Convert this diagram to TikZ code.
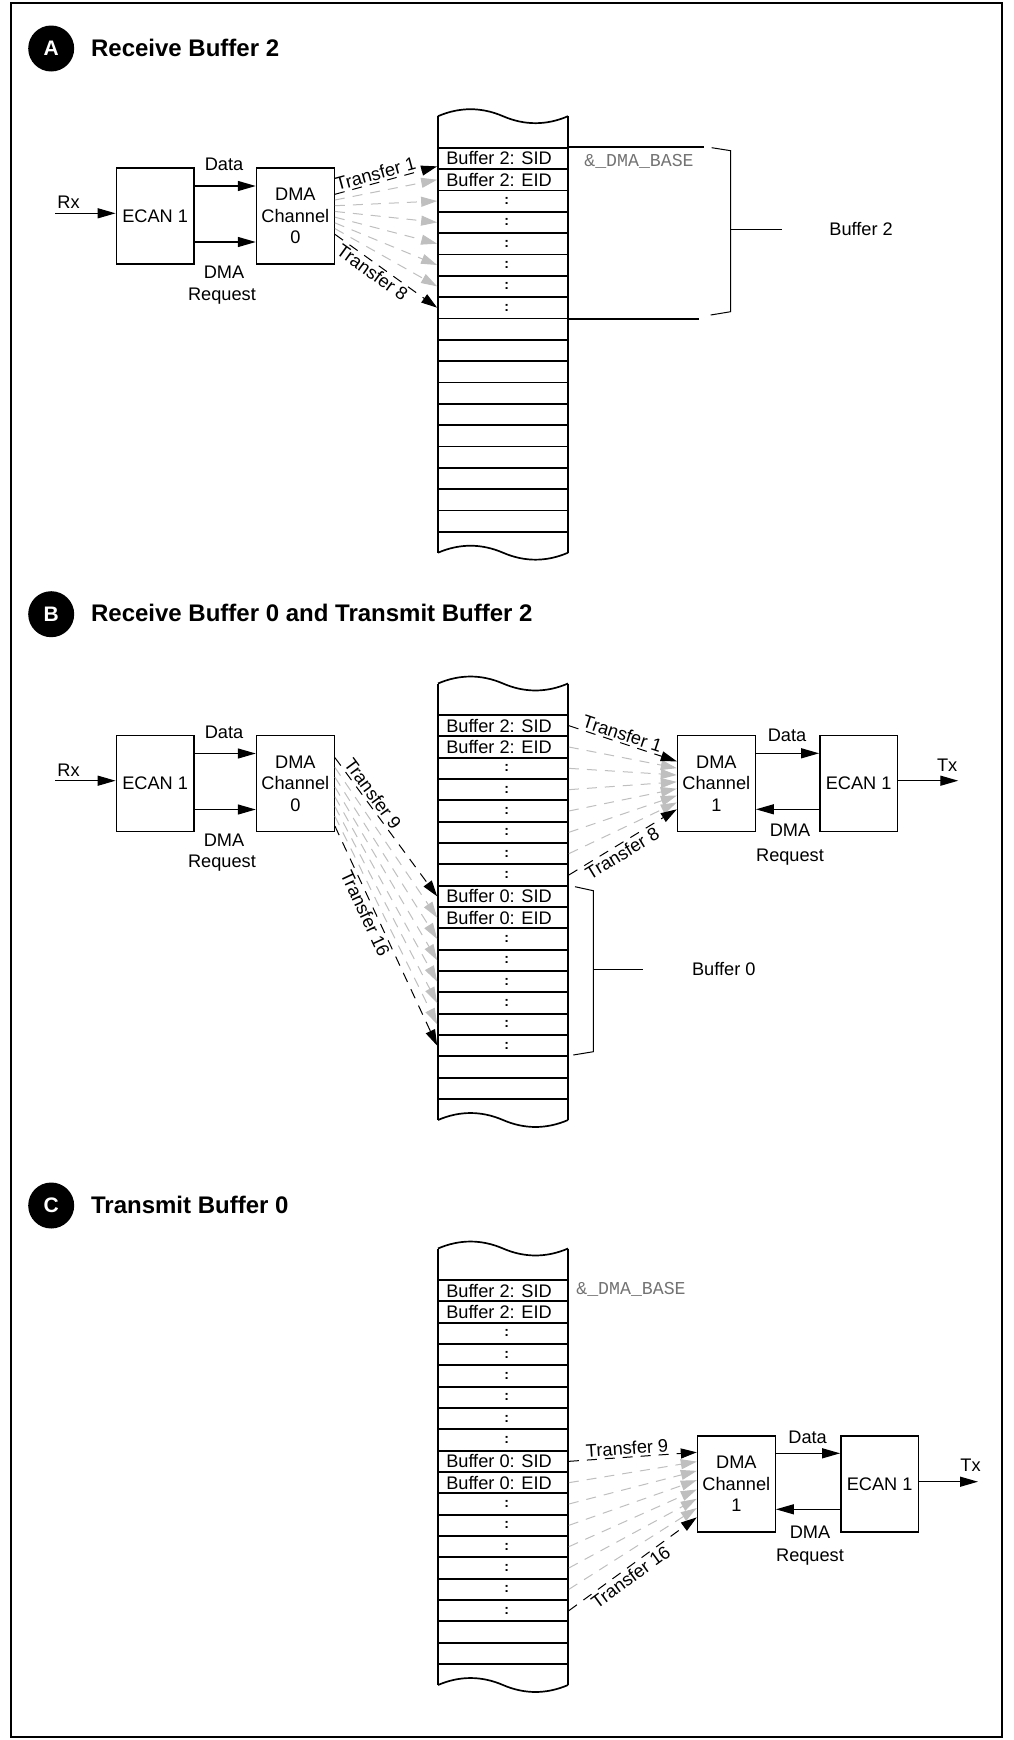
\documentclass[tikz,border=0pt]{standalone}
\usepackage{fontspec}
\setmainfont{Liberation Sans}
\setmonofont{Liberation Mono}
\usetikzlibrary{arrows.meta,calc}
\newcommand\fsn{\fontsize{9.1}{10.8}\selectfont}
\newcommand\memcol[2]{%
  \draw[colline] (438,#2-31.5) .. controls (459.5,#2-40.8) and (481.5,#2-40.8) .. (503,#2-31.5)
     .. controls (524.5,#2-22.2) and (546.5,#2-22.2) .. (568,#2-31.5);
  \draw[colline] (438,#2+405) .. controls (459.5,#2+395.7) and (481.5,#2+395.7) .. (503,#2+405)
     .. controls (524.5,#2+414.3) and (546.5,#2+414.3) .. (568,#2+405);
  \draw[colline] (438,#2-31.5) -- (438,#2+405);
  \draw[colline] (568,#2-31.5) -- (568,#2+405);
  \foreach \k in {0,...,17} {\node[cell] (#1-\k) at (503,{#2+21.333*\k+10.667}) {};}
}
\begin{document}
\begin{tikzpicture}[x=0.5pt,y=-0.5pt,
  frame/.style={line width=0.85pt},
  colline/.style={line width=0.85pt},
  cell/.style={draw,line width=0.85pt,minimum width=65pt,minimum height=10.667pt,inner sep=0pt},
  rtxt/.style={anchor=west,inner sep=0pt,font=\fsn},
  dotx/.style={inner sep=0pt,font=\fontsize{7}{8}\selectfont\bfseries},
  box/.style={draw,line width=0.7pt,minimum width=38.85pt,minimum height=48pt,inner sep=0pt,align=center,font=\fsn},
  lbl/.style={inner sep=0pt,font=\fsn},
  xl/.style={inner sep=1pt,font=\fsn},
  mono/.style={anchor=west,inner sep=0pt,font=\ttfamily\fontsize{9.1}{10.8}\selectfont,text=black!55},
  circ/.style={circle,fill=black,minimum size=23pt,inner sep=0pt,text=white,font=\fontsize{10.5}{12}\selectfont\bfseries},
  ttl/.style={anchor=base west,inner sep=0pt,font=\fontsize{12}{14}\selectfont\bfseries},
  arr/.style={line width=0.65pt,-{Triangle[length=9pt,width=5pt]}},
  xf/.style={line width=0.5pt,dash pattern=on 5pt off 4pt,-{Triangle[length=8pt,width=5pt]}},
  gxf/.style={xf,color=black!25},
  brk/.style={line width=0.5pt},
  tick/.style={line width=0.65pt}]
\useasboundingbox (0,0) rectangle (1013,1740);
\draw[frame] (11,3) rectangle (1002,1737);

% ================= A =================
\node[circ] (a-c) at (51.2,48.5) {A};
\node[ttl] (a-t) at (90.7,56.7) {Receive Buffer 2};
\node[box] (a-ecan) at (155.15,216) {ECAN 1};
\node[box] (a-dma) at (295.35,216) {DMA\\Channel\\0};
\coordinate (a-rx) at (55,213.3);
\draw[arr] (a-rx) -- (a-rx -| a-ecan.west);
\node[lbl,anchor=base west] (a-rxl) at (57,208.3) {Rx};
\draw[arr] ($(a-ecan.north east)+(0,18.7)$) -- ($(a-dma.north west)+(0,18.7)$);
\draw[arr] ($(a-ecan.north east)+(0,74.7)$) -- ($(a-dma.north west)+(0,74.7)$);
\node[lbl,anchor=base] (a-datal) at (224,170.7) {Data};
\node[lbl,anchor=base] (a-dmal) at (224,278.3) {DMA};
\node[lbl,anchor=base] (a-reql) at (222,300) {Request};

\memcol{a}{147.7}
\node[rtxt] (a-0t) at ($(a-0.west)+(8.7,0)$) {Buffer 2: SID};
\node[rtxt] (a-1t) at ($(a-1.west)+(8.7,0)$) {Buffer 2: EID};
\foreach \k in {2,...,7} {\node[dotx] (a-d\k) at ($(a-\k)+(3.7,0)$) {:};}
\draw[colline] (a-0.north east) -- ++(135,0);
\draw[colline] (a-7.south east) -- ++(130,0);
\node[mono] (a-base) at (584,161) {\&\_DMA\_BASE};
\draw[brk] (711.7,147.7) -- (730.7,150.7) -- (730.7,311.7) -- (710.7,315);
\coordinate (a-bm) at (730.7,229.3);
\draw[tick] (a-bm) -- ++(51,0);
\node[lbl,anchor=west] (a-bl) at (829,229.3) {Buffer 2};

\foreach \i in {1,...,6} {\draw[gxf] ($(a-dma.north east)+(0,{27+40*\i/7})$) -- (a-\i.west);}
\draw[xf] ($(a-dma.north east)+(0,27)$) -- node[xl,above,sloped,pos=0.42] (a-t1) {Transfer 1} ($(a-0.west)+(0,8)$);
\draw[xf] ($(a-dma.north east)+(0,67)$) -- node[xl,below,sloped,pos=0.42] (a-t8) {Transfer 8} (a-7.west);

% ================= B =================
\node[circ] (b-c) at (51.2,614.2) {B};
\node[ttl] (b-t) at (90.7,621.7) {Receive Buffer 0 and Transmit Buffer 2};
\node[box] (b-ecan) at (155.15,783.7) {ECAN 1};
\node[box] (b-dma) at (295.35,783.7) {DMA\\Channel\\0};
\coordinate (b-rx) at (55,780.7);
\draw[arr] (b-rx) -- (b-rx -| b-ecan.west);
\node[lbl,anchor=base west] (b-rxl) at (57,776) {Rx};
\draw[arr] ($(b-ecan.north east)+(0,18.5)$) -- ($(b-dma.north west)+(0,18.5)$);
\draw[arr] ($(b-ecan.north east)+(0,74.5)$) -- ($(b-dma.north west)+(0,74.5)$);
\node[lbl,anchor=base] (b-datal) at (224,738.4) {Data};
\node[lbl,anchor=base] (b-dmal) at (224,846) {DMA};
\node[lbl,anchor=base] (b-reql) at (222,867.7) {Request};

\memcol{b}{715}
\node[rtxt] (b-0t) at ($(b-0.west)+(8.7,0)$) {Buffer 2: SID};
\node[rtxt] (b-1t) at ($(b-1.west)+(8.7,0)$) {Buffer 2: EID};
\node[rtxt] (b-8t) at ($(b-8.west)+(8.7,0)$) {Buffer 0: SID};
\node[rtxt] (b-9t) at ($(b-9.west)+(8.7,0)$) {Buffer 0: EID};
\foreach \k in {2,3,4,5,6,7,10,11,12,13,14,15} {\node[dotx] (b-d\k) at ($(b-\k)+(3.7,0)$) {:};}
\draw[brk] (575,886.7) -- (593.3,890.7) -- (593.3,1051.7) -- (573.3,1055);
\coordinate (b-bm) at (593.3,969.3);
\draw[tick] (b-bm) -- ++(50,0);
\node[lbl,anchor=west] (b-bl) at (691.7,969.3) {Buffer 0};

\foreach \i in {1,...,6} {\pgfmathtruncatemacro\r{8+\i}
  \draw[gxf] ($(b-dma.north east)+(0,{22.6+68.4*\i/7})$) -- (b-\r.west);}
\draw[xf] ($(b-dma.north east)+(0,22.6)$) -- node[xl,above,sloped,pos=0.3] (b-t9) {Transfer 9} (b-8.west);
\draw[xf] ($(b-dma.north east)+(0,91)$) -- node[xl,below,sloped,pos=0.38] (b-t16) {Transfer 16} (b-15.west);

\node[box] (b-dma1) at (716.35,783.7) {DMA\\Channel\\1};
\node[box] (b-ecan1) at (858.65,783.7) {ECAN 1};
\draw[arr] ($(b-dma1.north east)+(0,18.3)$) -- ($(b-ecan1.north west)+(0,18.3)$);
\draw[arr] ($(b-ecan1.north west)+(0,74.3)$) -- ($(b-dma1.north east)+(0,74.3)$);
\coordinate (b-tx) at (958.3,780.7);
\draw[arr] (b-ecan1.east |- b-tx) -- (b-tx);
\node[lbl,anchor=base west] (b-txl) at (936.7,771.7) {Tx};
\node[lbl,anchor=base] (b-datal1) at (787,741.7) {Data};
\node[lbl,anchor=base] (b-dmal1) at (790,836.7) {DMA};
\node[lbl,anchor=base] (b-reql1) at (790,861) {Request};

\foreach \i in {1,...,6} {\draw[gxf] (b-\i.east) -- ($(b-dma1.north west)+(0,{26.3+48*\i/7})$);}
\draw[xf] (b-0.east) -- node[xl,above,sloped,pos=0.47] (b-t1) {Transfer 1} ($(b-dma1.north west)+(0,26.3)$);
\draw[xf] (b-7.east) -- node[xl,below,sloped,pos=0.45] (b-t8) {Transfer 8} ($(b-dma1.north west)+(0,74.3)$);

% ================= C =================
\node[circ] (c-c) at (51.2,1205.5) {C};
\node[ttl] (c-t) at (90.7,1213.3) {Transmit Buffer 0};
\memcol{c}{1280}
\node[rtxt] (c-0t) at ($(c-0.west)+(8.7,0)$) {Buffer 2: SID};
\node[rtxt] (c-1t) at ($(c-1.west)+(8.7,0)$) {Buffer 2: EID};
\node[rtxt] (c-8t) at ($(c-8.west)+(8.7,0)$) {Buffer 0: SID};
\node[rtxt] (c-9t) at ($(c-9.west)+(8.7,0)$) {Buffer 0: EID};
\foreach \k in {2,3,4,5,6,7,10,11,12,13,14,15} {\node[dotx] (c-d\k) at ($(c-\k)+(3.7,0)$) {:};}
\node[mono] (c-base) at (576,1289.3) {\&\_DMA\_BASE};

\node[box] (c-dma1) at (736.35,1484) {DMA\\Channel\\1};
\node[box] (c-ecan1) at (879.65,1484) {ECAN 1};
\draw[arr] ($(c-dma1.north east)+(0,18)$) -- ($(c-ecan1.north west)+(0,18)$);
\draw[arr] ($(c-ecan1.north west)+(0,74)$) -- ($(c-dma1.north east)+(0,74)$);
\coordinate (c-tx) at (978,1481.7);
\draw[arr] (c-ecan1.east |- c-tx) -- (c-tx);
\node[lbl,anchor=base west] (c-txl) at (960,1471.7) {Tx};
\node[lbl,anchor=base] (c-datal1) at (807.6,1443.3) {Data};
\node[lbl,anchor=base] (c-dmal1) at (810,1538) {DMA};
\node[lbl,anchor=base] (c-reql1) at (810,1561) {Request};

\foreach \i in {1,...,6} {\pgfmathtruncatemacro\r{8+\i}
  \draw[gxf] (c-\r.east) -- ($(c-dma1.north west)+(0,{17+65*\i/7})$);}
\draw[xf] (c-8.east) -- node[xl,above,sloped,pos=0.46] (c-t9) {Transfer 9} ($(c-dma1.north west)+(0,17)$);
\draw[xf] (c-15.east) -- node[xl,below,sloped,pos=0.44] (c-t16) {Transfer 16} ($(c-dma1.north west)+(0,82)$);
\end{tikzpicture}
\end{document}
